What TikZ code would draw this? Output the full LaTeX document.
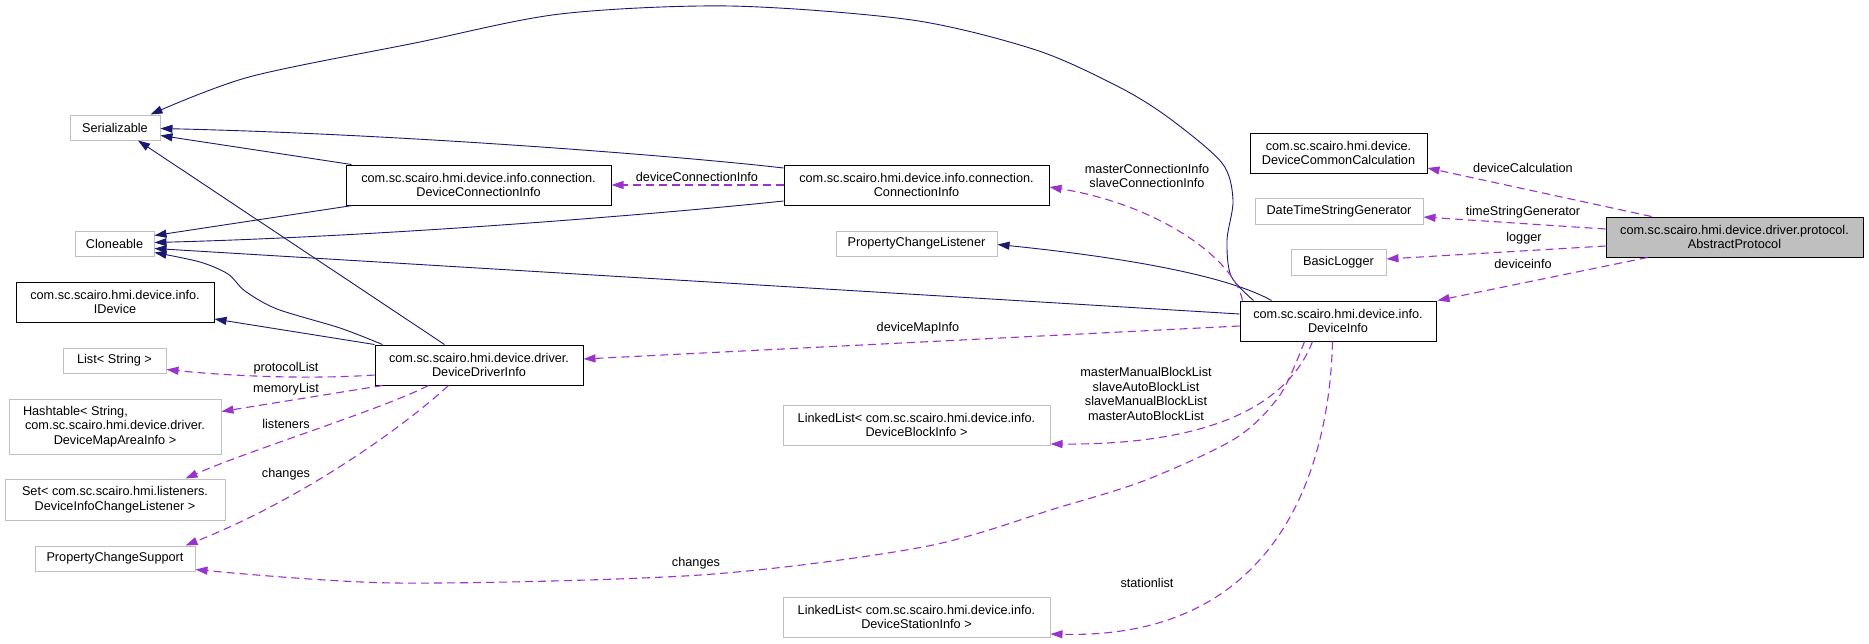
\documentclass[tikz,border=0pt]{standalone}
\usepackage{fontspec}
\setmainfont{Liberation Sans}
\usetikzlibrary{arrows.meta,calc}
\definecolor{inh}{HTML}{191970}
\definecolor{dep}{HTML}{9A32CD}
\definecolor{extb}{HTML}{BFBFBF}
\begin{document}
\begin{tikzpicture}[x=1pt,y=-1pt,
  font=\fontsize{12.7}{14.5}\selectfont,
  box/.style={draw=black, line width=1pt, inner sep=0pt, align=center},
  extbox/.style={draw=extb, line width=1pt, inner sep=0pt, align=center},
  inhedge/.style={draw=inh, line width=0.9pt, -{Triangle[length=12pt,width=8pt]}},
  depedge/.style={draw=dep, line width=1.1pt, dash pattern=on 8pt off 5pt, -{Triangle[length=12pt,width=8pt]}},
  lbl/.style={inner sep=0pt, align=center}]
\fill[white] (0,0) rectangle (1869,643);
\useasboundingbox (0,0) rectangle (1869,643);

% nodes
\node[extbox, minimum width=90pt, minimum height=25pt] (ser) at (115,127.5) {Serializable};
\node[extbox, minimum width=79pt, minimum height=25pt] (clo) at (114.5,243.5) {Cloneable};
\node[box, minimum width=198pt, minimum height=40pt] (idev) at (115,302) {com.sc.scairo.hmi.device.info.\\IDevice};
\node[box, minimum width=265pt, minimum height=40pt] (dci) at (478.5,185) {com.sc.scairo.hmi.device.info.connection.\\DeviceConnectionInfo};
\node[box, minimum width=208pt, minimum height=40pt] (ddi) at (479,365) {com.sc.scairo.hmi.device.driver.\\DeviceDriverInfo};
\node[extbox, minimum width=103pt, minimum height=25pt] (list) at (114.5,360.5) {List< String >};
\node[extbox, minimum width=212pt, minimum height=55pt] (hash) at (115,426.5) {\hspace*{-4pt}\rlap{Hashtable< String,}\hphantom{com.sc.scairo.hmi.device.driver.}\\ com.sc.scairo.hmi.device.driver.\\DeviceMapAreaInfo >};
\node[extbox, minimum width=220pt, minimum height=41pt] (set) at (115,499.5) {Set< com.sc.scairo.hmi.listeners.\\DeviceInfoChangeListener >};
\node[extbox, minimum width=160pt, minimum height=25pt] (pcs) at (115,558.5) {PropertyChangeSupport};
\node[box, minimum width=265pt, minimum height=40pt] (ci) at (916.5,185) {com.sc.scairo.hmi.device.info.connection.\\ConnectionInfo};
\node[extbox, minimum width=161pt, minimum height=25pt] (pcl) at (916.5,243.5) {PropertyChangeListener};
\node[box, minimum width=196pt, minimum height=40pt] (di) at (1338,321) {com.sc.scairo.hmi.device.info.\\DeviceInfo};
\node[box, minimum width=177pt, minimum height=40pt] (dcc) at (1338.5,153) {com.sc.scairo.hmi.device.\\DeviceCommonCalculation};
\node[extbox, minimum width=168pt, minimum height=26pt] (dtsg) at (1339,211) {DateTimeStringGenerator};
\node[extbox, minimum width=95pt, minimum height=26pt] (bl) at (1338.5,262) {BasicLogger};
\node[box, fill=extb, minimum width=257pt, minimum height=40pt] (ap) at (1734.5,237) {com.sc.scairo.hmi.device.driver.protocol.\\AbstractProtocol};
\node[extbox, minimum width=267pt, minimum height=40pt] (llb) at (916.5,425) {LinkedList< com.sc.scairo.hmi.device.info.\\DeviceBlockInfo >};
\node[extbox, minimum width=267pt, minimum height=40pt] (lls) at (916.5,617) {LinkedList< com.sc.scairo.hmi.device.info.\\DeviceStationInfo >};

% helper coordinates
\coordinate (diA) at ($(di.north west)+(14,0)$);
\coordinate (serA) at ($(ser.north east)+(-10,0)$);
\coordinate (ddiA) at ($(ddi.north west)+(8,0)$);
\coordinate (cloA) at ($(clo.east)+(0,9)$);
\coordinate (diB) at ($(di.south west)+(65,0)$);
\coordinate (pcsA) at ($(pcs.east)+(0,11)$);

% inheritance
\draw[inhedge] ($(dci.north west)+(6,0)$) -- ($(ser.east)+(0,8)$);
\draw[inhedge] ($(ci.west)+(0,-17)$) .. controls (680,156) and (400,134) .. ($(ser.east)+(0,1)$);
\draw[inhedge] plot[smooth, tension=0.5] coordinates {(diA) (1231,276) (1227,240) (1233,200) (1222,163) (1169,118) (1119,87) (1036,50) (912,20) (730,6) (560,14) (415,43) (249,77) (serA)};
\draw[inhedge] ($(dci.south west)+(7,0)$) -- ($(clo.east)+(0,-8)$);
\draw[inhedge] ($(ci.west)+(0,16)$) .. controls (680,212) and (400,236) .. ($(clo.east)+(0,-1)$);
\draw[inhedge] ($(di.west)+(0,-7)$) -- ($(clo.east)+(0,5)$);
\draw[inhedge] plot[smooth, tension=0.5] coordinates {(ddiA) (340,328) (277,309) (245,291) (228,274) (200,262) (cloA)};
\draw[inhedge] (ddi.north west) -- ($(idev.east)+(0,17)$);
\draw[inhedge] ($(ddi.north west)+(70,0)$) -- ($(ser.south)+(23,0)$);
\draw[inhedge] ($(di.north west)+(32,0)$) .. controls (1235,280) and (1150,260) .. ($(pcl.east)+(0,1)$);

% dependencies
\draw[depedge] (ci.west) -- (dci.east);
\node[lbl] (lDCI) at (697,177) {deviceConnectionInfo};
\draw[depedge] ($(di.north west)+(3,0)$) .. controls (1235,260) and (1160,205) .. ($(ci.east)+(0,2)$);
\node[lbl] (lCI) at (1147,176) {masterConnectionInfo\\slaveConnectionInfo};
\draw[depedge] ($(di.west)+(0,5)$) -- ($(ddi.east)+(0,-6)$);
\node[lbl] (lDMI) at (918,328) {deviceMapInfo};
\draw[depedge] ($(ddi.west)+(0,10)$) .. controls (300,380) and (220,375) .. ($(list.east)+(0,9)$);
\node[lbl] (lPL) at (286,368) {protocolList};
\draw[depedge] ($(ddi.south west)+(8,0)$) -- ($(hash.east)+(0,-15)$);
\node[lbl] (lML) at (286,389) {memoryList};
\draw[depedge] ($(ddi.south west)+(54,0)$) .. controls (380,410) and (250,450) .. ($(set.north east)+(-40,0)$);
\node[lbl] (lLS) at (286,424) {listeners};
\draw[depedge] ($(ddi.south west)+(74,0)$) .. controls (400,430) and (300,500) .. ($(pcs.north east)+(-10,0)$);
\node[lbl] (lCH1) at (286,474) {changes};
\draw[depedge] plot[smooth, tension=0.5] coordinates {(diB) (1280,395) (1236,438) (1146,480) (1057,508) (923,547) (700,575) (395,583) (pcsA)};
\node[lbl] (lCH2) at (696,563) {changes};
\draw[depedge] ($(di.south west)+(73,0)$) .. controls (1290,400) and (1220,445) .. ($(llb.east)+(0,19)$);
\node[lbl] (lBL) at (1146,394) {masterManualBlockList\\slaveAutoBlockList\\slaveManualBlockList\\masterAutoBlockList};
\draw[depedge] ($(di.south west)+(93,0)$) .. controls (1330,450) and (1290,640) .. ($(lls.east)+(0,17)$);
\node[lbl] (lSL) at (1147,583) {stationlist};
\draw[depedge] ($(ap.north west)+(46,0)$) -- ($(dcc.east)+(0,15)$);
\node[lbl] (lDC) at (1523,168) {deviceCalculation};
\draw[depedge] ($(ap.west)+(0,-8)$) -- ($(dtsg.east)+(0,6)$);
\node[lbl] (lTS) at (1523,212) {timeStringGenerator};
\draw[depedge] ($(ap.west)+(0,9)$) -- ($(bl.east)+(0,-3)$);
\node[lbl] (lLG) at (1524,238) {logger};
\draw[depedge] ($(ap.south west)+(42,0)$) -- ($(di.north east)+(1,0)$);
\node[lbl] (lDI) at (1523,264) {deviceinfo};
\end{tikzpicture}
\end{document}
